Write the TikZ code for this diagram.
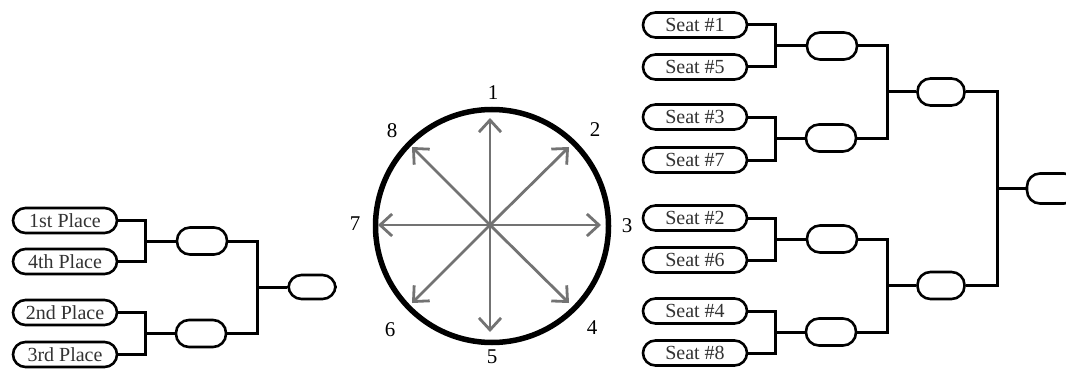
\documentclass[tikz,border=0pt]{standalone}
\usepackage{fontspec}
\setmainfont{Liberation Serif}
\usetikzlibrary{arrows.meta}
\begin{document}
\begin{tikzpicture}[x=1pt,y=-1pt,
  pill/.style={draw=black,line width=2.6pt,rounded corners=12.5pt,minimum width=104pt,minimum height=25pt,inner sep=0pt,font=\fontsize{20}{20}\selectfont,text=black!80},
  slot/.style={draw=black,line width=2.6pt,rounded corners=13pt,minimum width=50pt,minimum height=27pt,inner sep=0pt},
  wire/.style={draw=black,line width=3pt},
  ray/.style={draw=black!55,line width=2.8pt,-{Straight Barb[length=12pt,width=22pt,line width=2.8pt]}},
  num/.style={font=\fontsize{21}{21}\selectfont,inner sep=0pt}]
\clip (0,0) rectangle (1066,369);
\fill[white] (0,0) rectangle (1066,369);
% ---------- left bracket ----------
\node[pill] (p1) at (65,220.5) {1st Place};
\node[pill] (p4) at (65,261.5) {4th Place};
\node[pill] (p2) at (65,312.5) {2nd Place};
\node[pill] (p3) at (65,354.5) {3rd Place};
\node[slot] (la) at (202,241) {};
\node[slot] (lb) at (201,333.5) {};
\node[slot,minimum width=47pt,minimum height=24pt] (lf) at (312,287) {};
\coordinate (lj1) at (145,241);
\coordinate (lj2) at (145,333.5);
\coordinate (lj3) at (257,287);
\draw[wire] (p1.east) -| (lj1) |- (p4.east);
\draw[wire] (lj1) -- (la.west);
\draw[wire] (p2.east) -| (lj2) |- (p3.east);
\draw[wire] (lj2) -- (lb.west);
\draw[wire] (la.east) -| (lj3) |- (lb.east);
\draw[wire] (lj3) -- (lf.west);
% ---------- compass ----------
\coordinate (c) at (490,225);
\draw[line width=5.5pt] (492,226) circle (116.5);
\coordinate (t1) at (490,118);
\coordinate (t2) at (569,147);
\coordinate (t3) at (601,225);
\coordinate (t4) at (569,303);
\coordinate (t5) at (490,332);
\coordinate (t6) at (412,303);
\coordinate (t7) at (378,225);
\coordinate (t8) at (412,147);
\foreach \t in {t1,t2,t3,t4,t5,t6,t7,t8} \draw[ray] (c) -- (\t);
\node[num] (n1) at (493,93) {1};
\node[num] (n2) at (595,130) {2};
\node[num] (n3) at (627,226) {3};
\node[num] (n4) at (592,328) {4};
\node[num] (n5) at (492,357) {5};
\node[num] (n6) at (390,330) {6};
\node[num] (n7) at (355,224) {7};
\node[num] (n8) at (392,131) {8};
% ---------- right bracket ----------
\node[pill] (s1) at (695,25) {Seat \#1};
\node[pill] (s5) at (695,67) {Seat \#5};
\node[pill] (s3) at (695,117) {Seat \#3};
\node[pill] (s7) at (695,160) {Seat \#7};
\node[pill] (s2) at (695,218) {Seat \#2};
\node[pill] (s6) at (695,260) {Seat \#6};
\node[pill] (s4) at (695,311) {Seat \#4};
\node[pill] (s8) at (695,353) {Seat \#8};
\node[slot] (ra) at (832,46) {};
\node[slot] (rb) at (831,138) {};
\node[slot] (rc) at (832,239) {};
\node[slot] (rd) at (831,332) {};
\node[slot,minimum width=47pt] (re) at (941,92) {};
\node[slot,minimum width=47pt] (rf) at (941,285.5) {};
\node[slot,minimum width=50pt,minimum height=30pt] (rg) at (1052,188.5) {};
\coordinate (rj1) at (775,46);
\coordinate (rj2) at (775,138);
\coordinate (rj3) at (775,239);
\coordinate (rj4) at (775,332);
\coordinate (rj5) at (887,92);
\coordinate (rj6) at (887,285.5);
\coordinate (rj7) at (997,188.5);
\draw[wire] (s1.east) -| (rj1) |- (s5.east); \draw[wire] (rj1) -- (ra.west);
\draw[wire] (s3.east) -| (rj2) |- (s7.east); \draw[wire] (rj2) -- (rb.west);
\draw[wire] (s2.east) -| (rj3) |- (s6.east); \draw[wire] (rj3) -- (rc.west);
\draw[wire] (s4.east) -| (rj4) |- (s8.east); \draw[wire] (rj4) -- (rd.west);
\draw[wire] (ra.east) -| (rj5) |- (rb.east); \draw[wire] (rj5) -- (re.west);
\draw[wire] (rc.east) -| (rj6) |- (rd.east); \draw[wire] (rj6) -- (rf.west);
\draw[wire] (re.east) -| (rj7) |- (rf.east); \draw[wire] (rj7) -- (rg.west);
\end{tikzpicture}
\end{document}
